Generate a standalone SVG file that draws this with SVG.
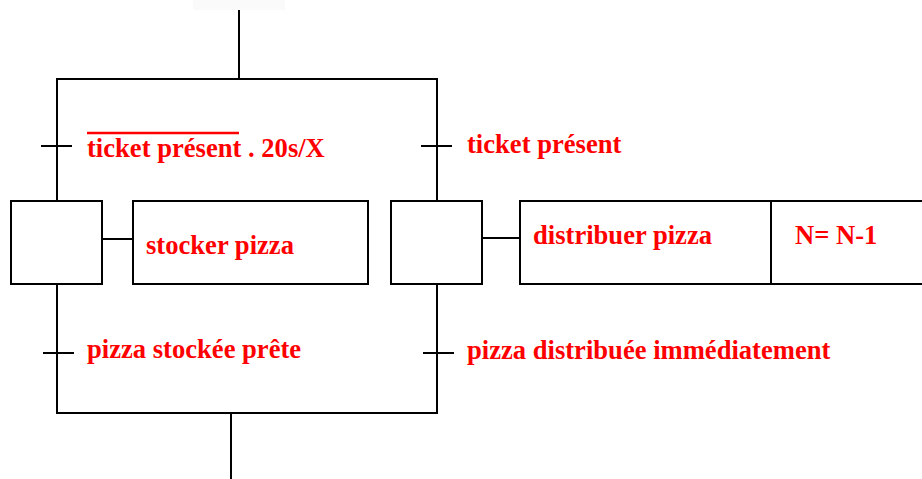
<svg xmlns="http://www.w3.org/2000/svg" width="922" height="479" viewBox="0 0 922 479">
  <style>
    .ln { stroke: #000; stroke-width: 2; fill: none; }
    .box { stroke: #000; stroke-width: 2; fill: #fff; }
    .lbl { font-family: "Liberation Serif", "Times New Roman", serif; font-weight: bold; font-size: 26.6px; fill: #ff0000; }
  </style>
  <rect width="922" height="479" fill="#fff"/>
  <rect x="193" y="0" width="92" height="10" fill="#fafafa"/>

  <!-- links: parallel divergence / convergence and transitions -->
  <g id="connectors">
    <line class="ln" x1="239" y1="10" x2="239" y2="79"/>
    <polyline class="ln" points="57,201 57,79 437,79 437,201"/>
    <polyline class="ln" points="57,284 57,413 437,413 437,284"/>
    <line class="ln" x1="231" y1="413" x2="231" y2="479"/>
    <!-- transition bars -->
    <line class="ln" x1="41" y1="146" x2="72" y2="146"/>
    <line class="ln" x1="421" y1="146" x2="452" y2="146"/>
    <line class="ln" x1="43" y1="353" x2="74" y2="353"/>
    <line class="ln" x1="423" y1="353" x2="454" y2="353"/>
    <!-- step to action links -->
    <line class="ln" x1="102" y1="239" x2="133" y2="239"/>
    <line class="ln" x1="482" y1="238" x2="520" y2="238"/>
  </g>

  <g id="t-left">
    <line x1="87" y1="133" x2="239" y2="133" stroke="#ff0000" stroke-width="2.5"/>
    <text class="lbl" x="87" y="157">ticket présent . 20s/X</text>
  </g>
  <g id="t-right">
    <text class="lbl" x="467" y="153">ticket présent</text>
  </g>

  <g id="step-stock">
    <rect class="box" x="11" y="201" width="91" height="83"/>
  </g>
  <g id="action-stock">
    <rect class="box" x="133" y="201" width="235" height="83"/>
    <text class="lbl" x="146" y="254">stocker pizza</text>
  </g>

  <g id="step-distrib">
    <rect class="box" x="391" y="201" width="91" height="83"/>
  </g>
  <g id="action-distrib">
    <rect class="box" x="520" y="201" width="251" height="83"/>
    <text class="lbl" x="533" y="244">distribuer pizza</text>
  </g>
  <g id="action-count">
    <rect class="box" x="771" y="201" width="160" height="83"/>
    <text class="lbl" x="795" y="244">N= N-1</text>
  </g>

  <g id="t-bottom-left">
    <text class="lbl" x="87" y="358">pizza stockée prête</text>
  </g>
  <g id="t-bottom-right">
    <text class="lbl" x="467" y="359">pizza distribuée immédiatement</text>
  </g>
</svg>
